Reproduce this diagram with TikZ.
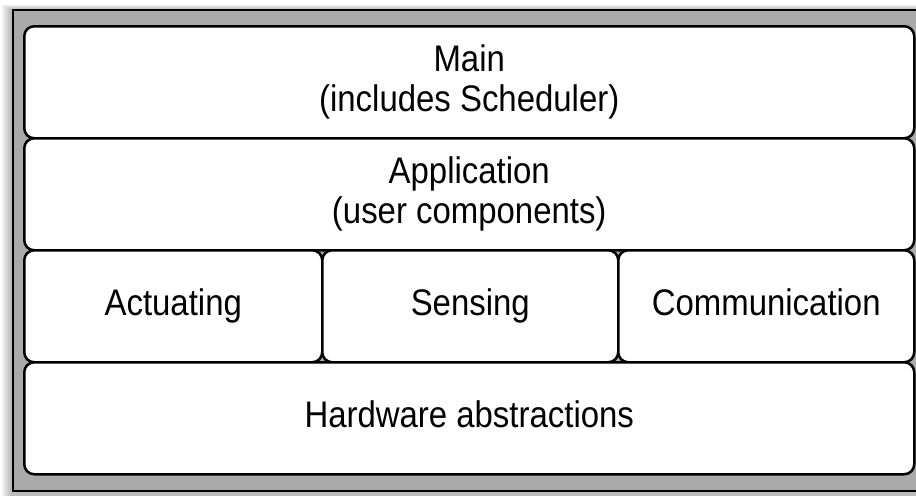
\documentclass[tikz,border=0pt]{standalone}
\usepackage{fontspec}
\setmainfont{Liberation Sans}[FakeStretch=0.89]

\begin{document}
\begin{tikzpicture}[
    x=1pt, y=-1pt,
    layer/.style  = {draw=black, line width=2.5pt, rounded corners=10pt,
                     fill=white, anchor=north west, inner sep=0pt,
                     align=center, font=\fontsize{37}{40}\selectfont},
    oneline/.style = {text height=27pt, text depth=8pt},
    frame/.style  = {line width=2.8pt, line join=miter},
]
\useasboundingbox (0,0) rectangle (916,496);

%% soft shadow at the left and top of the frame
\foreach \d in {2,4,6,8,10}
  \fill[black, opacity=0.06] (12-\d,10-\d/2) rectangle (916,496);

%% grey frame (runs off at the right)
\fill[gray!67] (13,10) rectangle (916,491);
\draw[frame] (916,10) -- (13,10) -- (13,491) -- (916,491);

%% Top layers
\node[layer, minimum width=890pt, minimum height=112pt] (main) at (23,25)
    {Main\\(includes Scheduler)};
\node[layer, minimum width=890pt, minimum height=112pt] (app)  at (23,137)
    {Application\\(user components)};

%% Middle row
\node[layer, oneline, minimum width=298pt, minimum height=112pt] (act)   at (23,249)  {Actuating};
\node[layer, oneline, minimum width=296pt, minimum height=112pt] (sense) at (321,249) {Sensing};
\node[layer, oneline, minimum width=296pt, minimum height=112pt] (comm)  at (617,249) {Communication};

%% Bottom layer
\node[layer, oneline, minimum width=890pt, minimum height=112pt] (hw) at (23,361)
    {Hardware abstractions};

\end{tikzpicture}
\end{document}
